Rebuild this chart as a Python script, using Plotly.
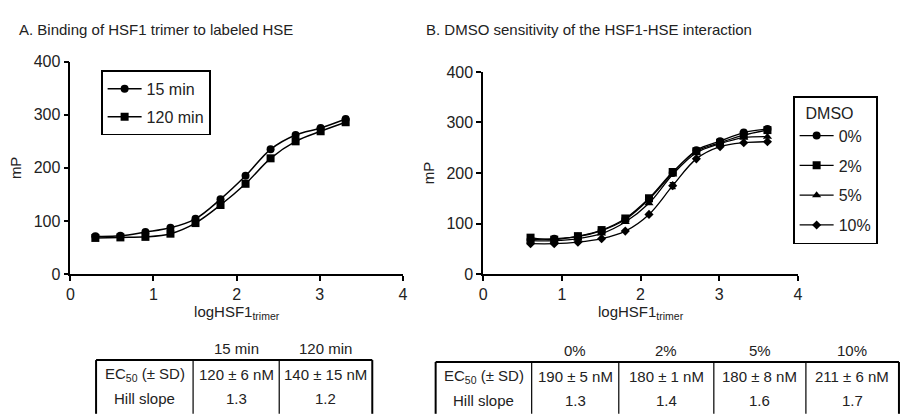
import plotly.graph_objects as go

# ---------------- data ----------------
xA = [0.301, 0.602, 0.903, 1.204, 1.505, 1.806, 2.107, 2.408, 2.709, 3.010, 3.311]
A_15min = [71, 72, 79, 87, 104, 141, 185, 235, 262, 275, 292]
A_120min = [68, 69, 70, 76, 96, 130, 170, 218, 250, 269, 286]

xB = [0.602, 0.903, 1.204, 1.505, 1.806, 2.107, 2.408, 2.709, 3.010, 3.311, 3.612]
B_0 = [68, 70, 74, 86, 108, 148, 200, 245, 263, 280, 287]
B_2 = [72, 68, 75, 87, 110, 150, 202, 243, 260, 275, 285]
B_5 = [66, 66, 70, 80, 103, 140, 197, 240, 258, 270, 272]
B_10 = [60, 60, 63, 70, 85, 118, 175, 228, 252, 260, 262]
B_10_sd = [0, 0, 0, 0, 0, 0, 6, 0, 0, 0, 0]

namesA = ["15 min", "120 min"]
namesB = ["0%", "2%", "5%", "10%"]

tableA_cols = ["15 min", "120 min"]
tableA_ec50 = ["120 ± 6 nM", "140 ± 15 nM"]
tableA_hill = ["1.3", "1.2"]
tableB_cols = ["0%", "2%", "5%", "10%"]
tableB_ec50 = ["190 ± 5 nM", "180 ± 1 nM", "180 ± 8 nM", "211 ± 6 nM"]
tableB_hill = ["1.3", "1.4", "1.6", "1.7"]
row_labels = ["EC<sub>50</sub> (± SD)", "Hill slope"]

W, H = 900, 418
FONT = "Liberation Sans, Arial, sans-serif"
TXT = "#222"


def px(x):
    return x / W


def py(y):
    return 1 - y / H


fig = go.Figure()

for ys, nm, sym in [(A_15min, namesA[0], "circle"), (A_120min, namesA[1], "square")]:
    fig.add_trace(go.Scatter(
        x=xA, y=ys, name=nm, mode="lines+markers", legendgroup="A" + nm,
        line=dict(color="black", width=1.5, shape="spline"),
        marker=dict(symbol=sym, size=8, color="black"),
        xaxis="x", yaxis="y", legend="legend", cliponaxis=False))

symsB = ["circle", "square", "triangle-up", "diamond"]
sizesB = [8, 8, 8, 7]
for ys, nm, sym, sz in zip([B_0, B_2, B_5, B_10], namesB, symsB, sizesB):
    kw = {}
    if nm == "10%":
        kw["error_y"] = dict(type="data", array=B_10_sd, color="black", thickness=1.2, width=3)
    fig.add_trace(go.Scatter(
        x=xB, y=ys, name=nm, mode="lines+markers", legendgroup="B" + nm,
        line=dict(color="black", width=1.3, shape="spline"),
        marker=dict(symbol=sym, size=sz, color="black"),
        xaxis="x2", yaxis="y2", legend="legend2", cliponaxis=False, **kw))

axis_common = dict(
    showline=True, linecolor="black", linewidth=1.6,
    ticks="outside", ticklen=5, tickwidth=1.6, tickcolor="black",
    showgrid=False, zeroline=False,
    tickfont=dict(family=FONT, size=16, color=TXT),
)
xtitle = dict(text="logHSF1<sub>trimer</sub>", font=dict(family=FONT, size=15, color=TXT), standoff=4)
ytitle = dict(text="mP", font=dict(family=FONT, size=15, color=TXT), standoff=8)

fig.update_layout(
    width=W, height=H,
    margin=dict(l=0, r=0, t=0, b=0),
    paper_bgcolor="white", plot_bgcolor="white",
    font=dict(family=FONT, color=TXT),
    showlegend=True,
    xaxis=dict(domain=[px(67), px(403)], range=[0, 4], anchor="y",
               tickvals=[0, 1, 2, 3, 4], title=xtitle, **axis_common),
    yaxis=dict(domain=[py(277.3), py(56)], range=[0, 400], anchor="x",
               tickvals=[0, 100, 200, 300, 400], title=ytitle, **axis_common),
    xaxis2=dict(domain=[px(484), px(802)], range=[0, 4], anchor="y2",
                tickvals=[0, 1, 2, 3, 4], title=xtitle, **axis_common),
    yaxis2=dict(domain=[py(277.3), py(66.7)], range=[0, 400], anchor="x2",
                tickvals=[0, 100, 200, 300, 400], title=ytitle, **axis_common),
    legend=dict(x=px(98), y=py(65), xanchor="left", yanchor="top",
                bordercolor="black", borderwidth=1.6, bgcolor="white",
                font=dict(family=FONT, size=16, color=TXT),
                tracegroupgap=4, itemwidth=34),
    legend2=dict(x=px(797), y=py(92), xanchor="left", yanchor="top",
                 bordercolor="black", borderwidth=1.6, bgcolor="white",
                 title=dict(text="  DMSO", font=dict(family=FONT, size=16, color=TXT)),
                 font=dict(family=FONT, size=16, color=TXT),
                 tracegroupgap=6, itemwidth=34),
)

ann = []
ann.append(dict(text="A. Binding of HSF1 trimer to labeled HSE", x=px(13), y=py(22),
                xref="paper", yref="paper", xanchor="left", yanchor="middle", showarrow=False,
                font=dict(family=FONT, size=15, color=TXT)))
ann.append(dict(text="B. DMSO sensitivity of the HSF1-HSE interaction", x=px(424), y=py(22),
                xref="paper", yref="paper", xanchor="left", yanchor="middle", showarrow=False,
                font=dict(family=FONT, size=15, color=TXT)))

shapes = []


def draw_table(edges, top, cols, ec50, hill):
    for i, c in enumerate(cols):
        cx = (edges[i + 1] + edges[i + 2]) / 2
        ann.append(dict(text=c, x=px(cx), y=py(top - 12), xref="paper", yref="paper",
                        xanchor="center", yanchor="middle", showarrow=False,
                        font=dict(family=FONT, size=15, color=TXT)))
    for r, (lab, vals) in enumerate(zip(row_labels, [ec50, hill])):
        yy = top + 15 + r * 25
        cx = (edges[0] + edges[1]) / 2
        ann.append(dict(text=lab, x=px(cx), y=py(yy), xref="paper", yref="paper",
                        xanchor="center", yanchor="middle", showarrow=False,
                        font=dict(family=FONT, size=15, color=TXT)))
        for i, v in enumerate(vals):
            cx = (edges[i + 1] + edges[i + 2]) / 2
            ann.append(dict(text=v, x=px(cx), y=py(yy), xref="paper", yref="paper",
                            xanchor="center", yanchor="middle", showarrow=False,
                            font=dict(family=FONT, size=15, color=TXT)))
    shapes.append(dict(type="line", xref="paper", yref="paper",
                       x0=px(edges[0]), x1=px(edges[-1]), y0=py(top), y1=py(top),
                       line=dict(color="black", width=2)))
    for k, e in enumerate(edges):
        shapes.append(dict(type="line", xref="paper", yref="paper",
                           x0=px(e), x1=px(e), y0=py(top), y1=py(H + 5),
                           line=dict(color="black", width=2 if k in (0, len(edges) - 1) else 1.2)))


draw_table([93, 191, 278, 372], 367, tableA_cols, tableA_ec50, tableA_hill)
draw_table([436, 533, 621, 717, 810, 904], 369, tableB_cols, tableB_ec50, tableB_hill)

fig.update_layout(annotations=ann, shapes=shapes)

fig.write_html("out.html", config={"displayModeBar": False})

# remove default page margin so the figure sits at the window origin
with open("out.html", "r", encoding="utf-8") as f:
    html = f.read()
html = html.replace("<head>", "<head><style>html,body{margin:0;padding:0;overflow:hidden;}</style>", 1)
with open("out.html", "w", encoding="utf-8") as f:
    f.write(html)
